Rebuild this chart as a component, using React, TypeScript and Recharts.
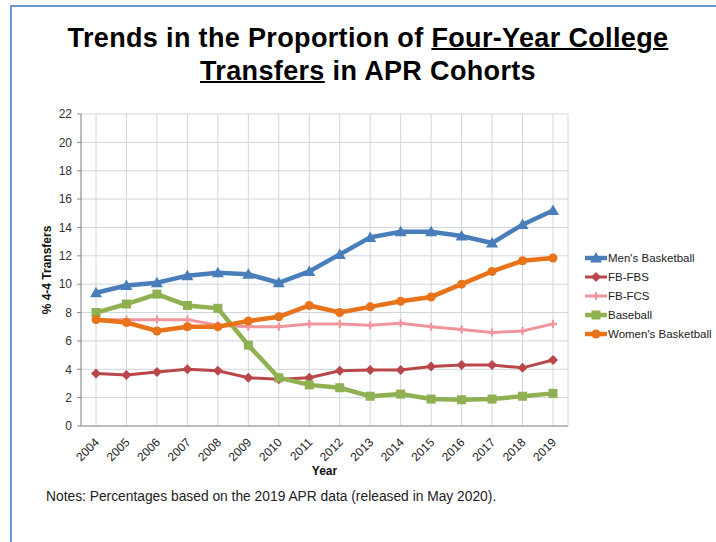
import React from "react";
import { LineChart, Line, XAxis, YAxis, CartesianGrid, Legend } from "recharts";

const years = [
  "2004", "2005", "2006", "2007", "2008", "2009", "2010", "2011",
  "2012", "2013", "2014", "2015", "2016", "2017", "2018", "2019",
];
const mensBasketball = [9.4, 9.9, 10.1, 10.6, 10.8, 10.7, 10.1, 10.9, 12.1, 13.3, 13.7, 13.7, 13.4, 12.9, 14.2, 15.2];
const fbFbs = [3.7, 3.6, 3.8, 4.0, 3.9, 3.4, 3.3, 3.4, 3.9, 3.95, 3.95, 4.2, 4.3, 4.3, 4.1, 4.65];
const fbFcs = [7.5, 7.5, 7.5, 7.5, 7.1, 7.0, 7.0, 7.2, 7.2, 7.1, 7.25, 7.0, 6.8, 6.6, 6.7, 7.2];
const baseball = [8.0, 8.6, 9.3, 8.5, 8.3, 5.7, 3.4, 2.9, 2.7, 2.1, 2.25, 1.9, 1.85, 1.9, 2.1, 2.3];
const womensBasketball = [7.5, 7.3, 6.7, 7.0, 7.0, 7.4, 7.7, 8.5, 8.0, 8.4, 8.8, 9.1, 10.0, 10.9, 11.65, 11.85];
const yTicks = [0, 2, 4, 6, 8, 10, 12, 14, 16, 18, 20, 22];

const seriesStyle = [
  { key: "mens", name: "Men's Basketball", color: "#4a7ebb", width: 4.5, shape: "triangle" },
  { key: "fbs", name: "FB-FBS", color: "#b9474a", width: 3, shape: "diamond" },
  { key: "fcs", name: "FB-FCS", color: "#f0959c", width: 3, shape: "plus" },
  { key: "baseball", name: "Baseball", color: "#8fb151", width: 4.5, shape: "square" },
  { key: "womens", name: "Women's Basketball", color: "#e8731a", width: 4.5, shape: "circle" },
];

const data = years.map((year, i) => ({
  year,
  mens: mensBasketball[i],
  fbs: fbFbs[i],
  fcs: fbFcs[i],
  baseball: baseball[i],
  womens: womensBasketball[i],
}));

const axisFont = "'Liberation Sans', Arial, sans-serif";

function Marker({ cx, cy, shape, color }: { cx: number; cy: number; shape: string; color: string }) {
  if (cx == null || cy == null) return null;
  switch (shape) {
    case "triangle":
      return <polygon points={`${cx},${cy - 6} ${cx + 6},${cy + 4.5} ${cx - 6},${cy + 4.5}`} fill={color} />;
    case "diamond":
      return <polygon points={`${cx},${cy - 5} ${cx + 5},${cy} ${cx},${cy + 5} ${cx - 5},${cy}`} fill={color} />;
    case "square":
      return <rect x={cx - 4.5} y={cy - 4.5} width={9} height={9} fill={color} />;
    case "plus":
      return (
        <g stroke={color} strokeWidth={2.2}>
          <line x1={cx - 4} y1={cy} x2={cx + 4} y2={cy} />
          <line x1={cx} y1={cy - 4} x2={cx} y2={cy + 4} />
        </g>
      );
    default:
      return <circle cx={cx} cy={cy} r={4.5} fill={color} />;
  }
}

const YearTick = ({ x, y, payload }: any) => {
  const ax = x + 4;
  const ay = y + 9;
  return (
    <text
      x={ax}
      y={ay}
      transform={`rotate(-45, ${ax}, ${ay})`}
      textAnchor="end"
      fontSize={12}
      fontFamily={axisFont}
      fill="#222"
    >
      {payload.value}
    </text>
  );
};

const renderLegend = () => (
  <div style={{ fontFamily: axisFont, fontSize: 11.5, color: "#222", whiteSpace: "nowrap" }}>
    {seriesStyle.map((s) => (
      <div key={s.key} style={{ display: "flex", alignItems: "center", height: 19 }}>
        <svg width={24} height={12} style={{ display: "block", flex: "none" }}>
          <line x1={1} y1={6} x2={23} y2={6} stroke={s.color} strokeWidth={s.width} />
          <Marker cx={12} cy={6} shape={s.shape} color={s.color} />
        </svg>
        <span>{s.name}</span>
      </div>
    ))}
  </div>
);

export default function App() {
  return (
    <div
      style={{
        position: "absolute",
        left: 0,
        top: 0,
        width: 716,
        height: 542,
        background: "#fff",
        overflow: "hidden",
      }}
    >
      <div
        style={{
          position: "absolute",
          left: 10,
          top: 5,
          width: 720,
          height: 550,
          border: "2px solid #6b98d4",
          boxSizing: "border-box",
        }}
      />
      <div
        style={{
          position: "absolute",
          left: 20,
          top: 22,
          width: 696,
          textAlign: "center",
          fontFamily: axisFont,
          fontWeight: "bold",
          fontSize: 27,
          letterSpacing: 0.35,
          lineHeight: "33px",
          color: "#000",
        }}
      >
        Trends in the Proportion of{" "}
        <span style={{ textDecoration: "underline", textDecorationThickness: 2 }}>Four-Year College</span>
        <br />
        <span style={{ textDecoration: "underline", textDecorationThickness: 2 }}>Transfers</span> in APR Cohorts
      </div>

      <div style={{ position: "absolute", left: 0, top: 0 }}>
        <LineChart
          width={716}
          height={542}
          data={data}
          margin={{ top: 114, right: 148, bottom: 66, left: 31 }}
        >
          <CartesianGrid stroke="#d0d6de" strokeWidth={1} />
          <XAxis
            dataKey="year"
            padding={{ left: 15, right: 15 }}
            height={50}
            tick={<YearTick />}
            tickLine={false}
            axisLine={{ stroke: "#8c8c8c" }}
            interval={0}
            label={{
              value: "Year",
              position: "insideBottom",
              offset: 1,
              style: { fontFamily: axisFont, fontSize: 12, fontWeight: "bold", fill: "#111" },
            }}
          />
          <YAxis
            width={50}
            domain={[0, 22]}
            ticks={yTicks}
            interval={0}
            tickSize={4}
            tickMargin={5}
            tickLine={{ stroke: "#8c8c8c" }}
            axisLine={{ stroke: "#8c8c8c" }}
            tick={{ fontSize: 12, fontFamily: axisFont, fill: "#333" }}
            label={{
              value: "% 4-4 Transfers",
              angle: -90,
              position: "insideLeft",
              offset: 16,
              style: { textAnchor: "middle", fontFamily: axisFont, fontSize: 12, fontWeight: "bold", fill: "#111" },
            }}
          />
          <Legend
            layout="vertical"
            align="center"
            verticalAlign="middle"
            content={renderLegend}
            wrapperStyle={{ left: 584, top: 248, width: 140 }}
          />
          {seriesStyle.map((s) => (
            <Line
              key={s.key}
              type="linear"
              dataKey={s.key}
              name={s.name}
              stroke={s.color}
              strokeWidth={s.width}
              isAnimationActive={false}
              dot={(p: any) => <Marker key={`${s.key}-${p.index}`} cx={p.cx} cy={p.cy} shape={s.shape} color={s.color} />}
              activeDot={false}
            />
          ))}
        </LineChart>
      </div>

      <div
        style={{
          position: "absolute",
          left: 46,
          top: 489,
          fontFamily: axisFont,
          fontSize: 13.8,
          color: "#222",
          whiteSpace: "nowrap",
        }}
      >
        Notes: Percentages based on the 2019 APR data (released in May 2020).
      </div>
    </div>
  );
}
